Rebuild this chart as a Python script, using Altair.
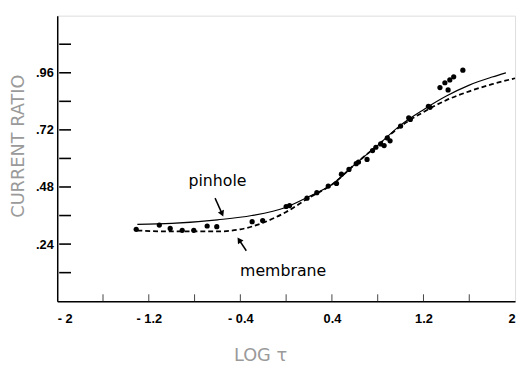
import altair as alt
import pandas as pd

# observed current ratios (log tau, ratio)
obs_x = [-1.31, -1.108, -1.013, -0.908, -0.807, -0.69, -0.606, -0.297, -0.205, 0.0, 0.03,
         0.182, 0.268, 0.368, 0.44, 0.483, 0.549, 0.612, 0.632, 0.707, 0.755, 0.784,
         0.826, 0.856, 0.884, 0.908, 1.0, 1.071, 1.085, 1.243, 1.257,
         1.344, 1.387, 1.415, 1.43, 1.464, 1.544]
obs_y = [0.302, 0.320, 0.306, 0.298, 0.298, 0.316, 0.313, 0.334, 0.339, 0.398, 0.402,
         0.433, 0.456, 0.484, 0.495, 0.534, 0.554, 0.578, 0.585, 0.596, 0.633, 0.647,
         0.661, 0.654, 0.686, 0.674, 0.736, 0.771, 0.764, 0.819, 0.815,
         0.898, 0.918, 0.888, 0.93, 0.943, 0.971]

# theory curves
pin_x = [-1.3, -1.0, -0.6, -0.3, 0.0, 0.2, 0.4, 0.6, 0.8, 1.0, 1.2, 1.4, 1.6, 1.8, 1.92]
pin_y = [0.323, 0.327, 0.342, 0.36, 0.395, 0.44, 0.49, 0.575, 0.655, 0.74, 0.805, 0.862, 0.908, 0.942, 0.96]
mem_x = [-1.3, -1.0, -0.6, -0.4, -0.2, 0.0, 0.2, 0.4, 0.6, 0.8, 1.0, 1.2, 1.4, 1.6, 1.8, 2.0]
mem_y = [0.297, 0.293, 0.293, 0.302, 0.33, 0.375, 0.435, 0.49, 0.575, 0.655, 0.735, 0.795, 0.845, 0.882, 0.912, 0.937]

# axes
x_label_vals = [-2, -1.2, -0.4, 0.4, 1.2, 2]
x_tick_vals = [-1.6, -1.2, -0.8, -0.4, 0.0, 0.4, 0.8, 1.2, 1.6]
y_label_vals = [0.24, 0.48, 0.72, 0.96]
y_tick_vals = [0.12, 0.24, 0.36, 0.48, 0.60, 0.72, 0.84, 0.96, 1.08]

# annotations
ann_text = ["pinhole", "membrane"]
ann_x = [-0.60, -0.026]
ann_y = [0.505, 0.128]
arr_x = [-0.621, -0.348]
arr_y = [0.433, 0.212]
arr_x2 = [-0.563, -0.406]
arr_y2 = [0.371, 0.254]
arr_angle = [156, 326]

xs = alt.Scale(domain=[-2, 2], nice=False, zero=False)
ys = alt.Scale(domain=[0, 1.2], nice=False, zero=False)

x_axis = alt.Axis(
    values=x_label_vals,
    labelExpr="(datum.value < 0 ? '- ' : '') + (abs(datum.value) % 1 == 0 ? format(abs(datum.value), 'd') : format(abs(datum.value), '.1f'))",
    ticks=False, grid=False, domainColor="black", domainWidth=1.5,
    labelFont="Liberation Sans", labelFontSize=13, labelColor="black", labelPadding=12,
    labelFontWeight="bold",
    title="LOG τ", titleFont="DejaVu Sans", titleFontSize=18, titleFontWeight="normal",
    titleColor="#9a9a9a", titleX=206, titleY=55, titleAlign="center", titleBaseline="middle",
)
y_axis = alt.Axis(
    values=y_label_vals,
    labelExpr="replace(format(datum.value, '.2f'), '0.', '.')",
    ticks=False, grid=False, domainColor="black", domainWidth=1.5,
    labelFont="Liberation Sans", labelFontSize=13, labelColor="black", labelPadding=4,
    labelFontWeight="bold",
    title="CURRENT RATIO", titleFont="DejaVu Sans", titleFontSize=18, titleFontWeight="normal",
    titleColor="#9a9a9a", titleAngle=270, titleX=-39, titleY=132, titleAlign="center",
    titleBaseline="middle",
)


def X(f):
    return alt.X(f, type="quantitative", scale=xs, axis=x_axis)


def Y(f):
    return alt.Y(f, type="quantitative", scale=ys, axis=y_axis)


obs = pd.DataFrame({"x": obs_x, "y": obs_y})
pin = pd.DataFrame({"x": pin_x, "y": pin_y})
mem = pd.DataFrame({"x": mem_x, "y": mem_y})
ann = pd.DataFrame({"x": ann_x, "y": ann_y, "t": ann_text})
arr = pd.DataFrame({"x": arr_x, "y": arr_y, "x2": arr_x2, "y2": arr_y2, "a": arr_angle})
ytk = pd.DataFrame({"v": y_tick_vals})
xtk = pd.DataFrame({"v": x_tick_vals})

pts = alt.Chart(obs).mark_point(filled=True, color="black", opacity=1, size=28).encode(x=X("x"), y=Y("y"))
pin_line = alt.Chart(pin).mark_line(color="black", strokeWidth=1.2, interpolate="monotone").encode(x=X("x"), y=Y("y"))
mem_line = alt.Chart(mem).mark_line(color="black", strokeWidth=1.8, strokeDash=[5, 3], interpolate="monotone").encode(x=X("x"), y=Y("y"))
labels = alt.Chart(ann).mark_text(font="DejaVu Sans", fontSize=16, color="black", baseline="middle").encode(
    x=X("x"), y=Y("y"), text="t:N")
arrows = alt.Chart(arr).mark_rule(color="black", strokeWidth=1.5).encode(
    x=X("x"), y=Y("y"), x2="x2:Q", y2="y2:Q")
heads = alt.Chart(arr).mark_point(shape="triangle", filled=True, color="black", opacity=1, size=45).encode(
    x=alt.X("x2", type="quantitative", scale=xs, axis=x_axis),
    y=alt.Y("y2", type="quantitative", scale=ys, axis=y_axis),
    angle=alt.Angle("a:Q", scale=None))
ytick_layer = alt.Chart(ytk).mark_rule(color="black", strokeWidth=1.6).encode(
    y=Y("v"), x=alt.value(2), x2=alt.value(14))
xtick_layer = alt.Chart(xtk).mark_rule(color="#444", strokeWidth=1).encode(
    x=X("v"), y=alt.value(290), y2=alt.value(283))

chart = alt.layer(
    ytick_layer, xtick_layer, pin_line, mem_line, pts, arrows, heads, labels
).properties(
    width=465, height=290,
    autosize=alt.AutoSizeParams(type="none"),
    padding={"left": 50, "top": 5, "right": 3, "bottom": 61},
).configure_view(
    stroke="#555", strokeWidth=1, strokeDash=[12, 3]
).configure(background="white")

chart.save("out.html", embed_options={"renderer": "svg", "actions": False})
